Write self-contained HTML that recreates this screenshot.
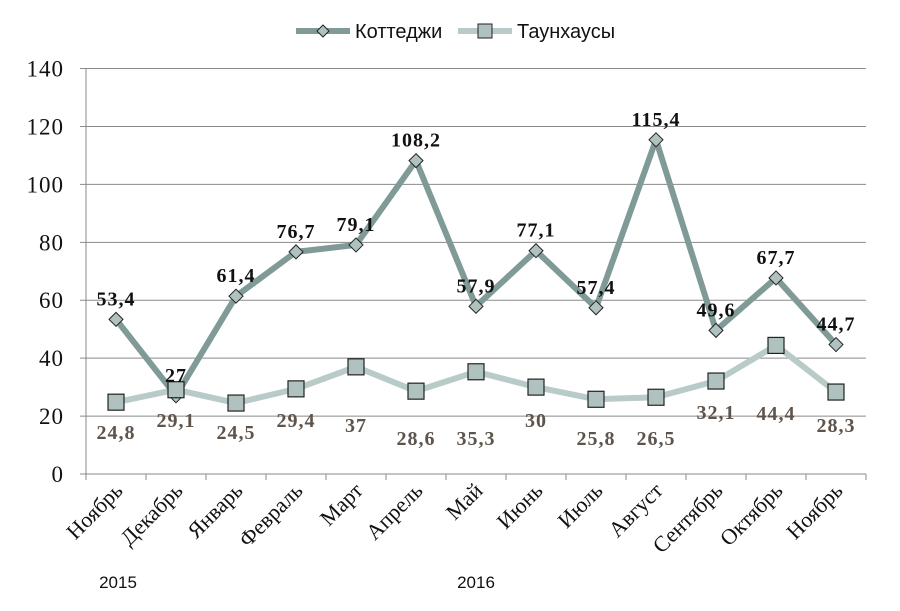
<!DOCTYPE html>
<html><head><meta charset="utf-8"><style>
body{margin:0;background:#fff;width:900px;height:611px;overflow:hidden}
svg{display:block}
</style></head><body>
<svg id="s" width="900" height="611" xmlns="http://www.w3.org/2000/svg"></svg>
<script>
const s=document.getElementById('s');
const y0=474,k=2.896,x0=116,dx=60;
const c=[53.4,27,61.4,76.7,79.1,108.2,57.9,77.1,57.4,115.4,49.6,67.7,44.7];
const t=[24.8,29.1,24.5,29.4,37,28.6,35.3,30,25.8,26.5,32.1,44.4,28.3];
const tb=[439,427,439,427,432,445,445,427,445,445,419,420,432];
const m=['Ноябрь','Декабрь','Январь','Февраль','Март','Апрель','Май','Июнь','Июль','Август','Сентябрь','Октябрь','Ноябрь'];
let h='';
const Y=v=>y0-v*k, X=i=>x0+i*dx;
for(let v=0;v<=140;v+=20){const y=Y(v);
 h+=`<line x1="80" x2="866" y1="${y}" y2="${y}" stroke="#8a8a8a" stroke-width="1"/>`;
 h+=`<text x="64" y="${y+8}" text-anchor="end" font-family="Liberation Serif,serif" font-size="23" letter-spacing="1" fill="#111">${v}</text>`;}
h+=`<line x1="86" x2="86" y1="${Y(140)}" y2="${y0}" stroke="#8a8a8a"/>`;
for(let i=0;i<=13;i++){h+=`<line x1="${86+i*60}" x2="${86+i*60}" y1="${y0}" y2="${y0+6}" stroke="#8a8a8a"/>`;}
m.forEach((n,i)=>{const x=X(i)+8,y=y0+18;
 h+=`<text transform="translate(${x},${y}) rotate(-45)" text-anchor="end" font-family="Liberation Serif,serif" font-size="22" fill="#111">${n}</text>`;});
h+=`<text x="118" y="588" text-anchor="middle" font-family="Liberation Sans,sans-serif" font-size="17" fill="#111">2015</text>`;
h+=`<text x="476" y="588" text-anchor="middle" font-family="Liberation Sans,sans-serif" font-size="17" fill="#111">2016</text>`;
const pc=c.map((v,i)=>X(i)+','+Y(v)).join(' '), pt=t.map((v,i)=>X(i)+','+Y(v)).join(' ');
h+=`<polyline points="${pt}" fill="none" stroke="#b9cbc8" stroke-width="6" stroke-linejoin="round"/>`;
h+=`<polyline points="${pc}" fill="none" stroke="#7f9a97" stroke-width="6" stroke-linejoin="round"/>`;
c.forEach((v,i)=>{const x=X(i),y=Y(v);
 h+=`<polygon points="${x},${y-7} ${x+7},${y} ${x},${y+7} ${x-7},${y}" fill="#b0c2c0" stroke="#222" stroke-width="1"/>`;});
t.forEach((v,i)=>{const x=X(i),y=Y(v);
 h+=`<rect x="${x-8}" y="${y-8}" width="16" height="16" fill="#b0c2c0" stroke="#222" stroke-width="1.2"/>`;});
c.forEach((v,i)=>{const x=X(i),y=Y(v);
 h+=`<text x="${x}" y="${y-14}" text-anchor="middle" font-family="Liberation Serif,serif" font-weight="bold" font-size="20" letter-spacing="1" fill="#111">${String(v).replace('.',',')}</text>`;});
t.forEach((v,i)=>{const x=X(i);
 h+=`<text x="${x}" y="${tb[i]}" text-anchor="middle" font-family="Liberation Serif,serif" font-weight="bold" font-size="20" letter-spacing="1" fill="#5e544b">${String(v).replace('.',',')}</text>`;});
h+=`<line x1="296" x2="350" y1="31" y2="31" stroke="#7f9a97" stroke-width="6"/>`;
h+=`<polygon points="323,25 329,31 323,37 317,31" fill="#b0c2c0" stroke="#222"/>`;
h+=`<text x="355" y="38" font-family="Liberation Sans,sans-serif" font-size="20" fill="#111">Коттеджи</text>`;
h+=`<line x1="458" x2="512" y1="31" y2="31" stroke="#b9cbc8" stroke-width="6"/>`;
h+=`<rect x="478" y="24" width="14" height="14" fill="#b0c2c0" stroke="#222"/>`;
h+=`<text x="517" y="38" font-family="Liberation Sans,sans-serif" font-size="20" fill="#111">Таунхаусы</text>`;
s.innerHTML=h;
</script>
</body></html>
